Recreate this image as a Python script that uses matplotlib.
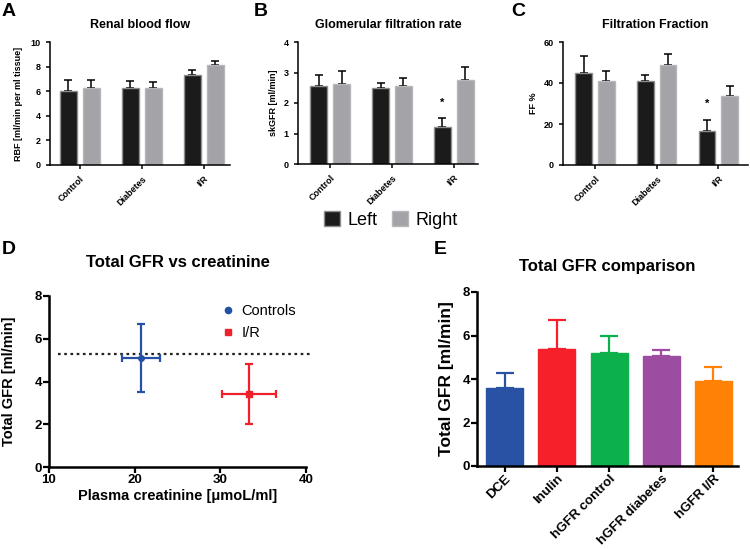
import matplotlib
matplotlib.use("Agg")
import matplotlib.pyplot as plt
from matplotlib.patches import Patch
from matplotlib.lines import Line2D
import numpy as np

plt.rcParams['font.family'] = ['Liberation Sans', 'DejaVu Sans']

# ---------------- data ----------------
groups = ["Control", "Diabetes", "I/R"]
rbf_left = [6.0, 6.3, 7.3]
rbf_left_err = [0.9, 0.5, 0.4]
rbf_right = [6.3, 6.25, 8.1]
rbf_right_err = [0.6, 0.5, 0.35]

gfr_left = [2.55, 2.48, 1.2]
gfr_left_err = [0.37, 0.17, 0.32]
gfr_right = [2.62, 2.55, 2.75]
gfr_right_err = [0.42, 0.28, 0.42]

ff_left = [45.0, 41.0, 16.7]
ff_left_err = [8.1, 2.8, 5.4]
ff_right = [41.0, 49.0, 33.7]
ff_right_err = [4.7, 5.1, 4.6]

star_B = [None, None, 2.0]
star_C = [None, None, 30.0]

scatter_labels = ["Controls", "I/R"]
creat_mean = [20.7, 33.3]
creat_err = [2.2, 3.15]
tgfr_mean = [5.1, 3.4]
tgfr_err = [1.6, 1.4]
ref_line_y = 5.3
ref_line_x = [11.0, 40.5]

comp_labels = ["DCE", "Inulin", "hGFR control", "hGFR diabetes", "hGFR I/R"]
comp_vals = [3.57, 5.4, 5.18, 5.05, 3.93]
comp_err = [0.7, 1.33, 0.78, 0.3, 0.6]
comp_colors = ["#2a52a4", "#f5202a", "#0cb14b", "#9c4ca1", "#ff8105"]

W, H = 750, 549
fig = plt.figure(figsize=(W / 100, H / 100), dpi=100)


def rect(x0, x1, ytop, ybot):
    return [x0 / W, 1 - ybot / H, (x1 - x0) / W, (ybot - ytop) / H]


BLACK = "#1b1b1b"
BEDGE = "#8e8e8e"
GRAY = "#a3a3a8"
GEDGE = "#b8b8bc"


def style_axes(ax, lw=1.1, ticklen=3, tickw=1.1):
    for s in ["top", "right"]:
        ax.spines[s].set_visible(False)
    for s in ["left", "bottom"]:
        ax.spines[s].set_linewidth(lw)
    ax.tick_params(direction="out", length=ticklen, width=tickw)


def bar_panel(r, left, lerr, right, rerr, ylim, yticks, ylabel, title, letter, lx, xlim,
              stars=None, labelpad=4):
    ax = fig.add_axes(rect(*r))
    x = np.arange(len(groups))
    off, w = 0.185, 0.27
    ax.errorbar(x - off, left, yerr=[np.zeros(len(left)), lerr], fmt="none",
                ecolor="black", elinewidth=1.1, capsize=3, capthick=1.1, zorder=1)
    ax.errorbar(x + off, right, yerr=[np.zeros(len(right)), rerr], fmt="none",
                ecolor="black", elinewidth=1.1, capsize=3, capthick=1.1, zorder=1)
    ax.bar(x - off, left, w, color=BLACK, edgecolor=BEDGE, linewidth=1.0, zorder=2)
    ax.bar(x + off, right, w, color=GRAY, edgecolor=GEDGE, linewidth=1.0, zorder=2)
    if stars:
        for i, s in enumerate(stars):
            if s is not None:
                ax.text(x[i] - off, s, "*", ha="center", va="center", fontsize=8, fontweight="bold")
    ax.set_xlim(*xlim)
    ax.set_ylim(*ylim)
    ax.set_yticks(yticks)
    ax.set_xticks(x)
    ax.set_xticklabels(groups, rotation=45, ha="right", rotation_mode="anchor",
                       fontsize=6.5, fontweight="bold")
    for t in ax.get_yticklabels():
        t.set_fontsize(6.5)
        t.set_fontweight("bold")
    ax.set_ylabel(ylabel, fontsize=6.5, fontweight="bold", labelpad=labelpad)
    ax.set_title(title, fontsize=9, fontweight="bold", pad=10)
    style_axes(ax)
    fig.text(lx / W, 1 - 11 / H, letter, fontsize=14, fontweight="bold", ha="left", va="center")
    return ax


bar_panel((50, 230, 42, 165), rbf_left, rbf_left_err, rbf_right, rbf_right_err,
          (0, 10), [0, 2, 4, 6, 8, 10], "RBF [ml/min per ml tissue]", "Renal blood flow", "A", 2,
          (-0.48, 2.42), labelpad=6)
bar_panel((298, 478, 42, 164), gfr_left, gfr_left_err, gfr_right, gfr_right_err,
          (0, 4), [0, 1, 2, 3, 4], "skGFR [ml/min]", "Glomerular filtration rate", "B", 254,
          (-0.52, 2.39), star_B)
bar_panel((563, 748, 42, 165), ff_left, ff_left_err, ff_right, ff_right_err,
          (0, 60), [0, 20, 40, 60], "FF %", "Filtration Fraction", "C", 511, (-0.52, 2.48), star_C)

fig.legend(handles=[Patch(facecolor=BLACK, edgecolor=BEDGE, linewidth=1.0, label="Left"),
                    Patch(facecolor=GRAY, edgecolor=GEDGE, linewidth=1.0, label="Right")],
           loc="center", bbox_to_anchor=(391 / W, 1 - 220 / H), ncol=2, frameon=False,
           fontsize=13, handlelength=0.9, handleheight=0.9, handletextpad=0.4, columnspacing=0.8)

# ---------------- D ----------------
axD = fig.add_axes(rect(49, 306, 296, 467))
colsD = ["#2451a4", "#f0202a"]
markers = ["o", "s"]
axD.plot(ref_line_x, [ref_line_y, ref_line_y], linestyle=(0, (1.2, 1.6)), color="#222222",
         linewidth=1.6, clip_on=False, zorder=1)
for i in range(len(scatter_labels)):
    axD.errorbar(creat_mean[i], tgfr_mean[i], xerr=creat_err[i], yerr=tgfr_err[i], fmt=markers[i],
                 color=colsD[i], ecolor=colsD[i], markersize=4, elinewidth=1.6, capsize=2.8,
                 capthick=1.6, zorder=3)
axD.set_xlim(10, 40)
axD.set_ylim(0, 8)
axD.set_xticks([10, 20, 30, 40])
axD.set_yticks([0, 2, 4, 6, 8])
for t in axD.get_xticklabels() + axD.get_yticklabels():
    t.set_fontsize(9.5)
    t.set_fontweight("bold")
axD.set_xlabel("Plasma creatinine [μmoL/ml]", fontsize=10.5, fontweight="bold", labelpad=2)
axD.set_ylabel("Total GFR [ml/min]", fontsize=10.5, fontweight="bold", labelpad=13)
axD.set_title("Total GFR vs creatinine", fontsize=12, fontweight="bold", pad=21)
style_axes(axD, lw=1.8, ticklen=4, tickw=1.6)
axD.tick_params(pad=1)
handlesD = [Line2D([], [], marker=markers[i], color=colsD[i], linestyle="none", markersize=4.5,
                   label=scatter_labels[i]) for i in range(len(scatter_labels))]
axD.legend(handles=handlesD, loc="center left", bbox_to_anchor=(208 / W, 1 - 322 / H),
           bbox_transform=fig.transFigure, frameon=False, fontsize=10.5, handlelength=1.0,
           handletextpad=0.4, labelspacing=0.6)
fig.text(2 / W, 1 - 249 / H, "D", fontsize=14, fontweight="bold", ha="left", va="center")

# ---------------- E ----------------
axE = fig.add_axes(rect(477, 738, 292, 466))
xe = np.arange(len(comp_labels))
for i in range(len(comp_labels)):
    axE.errorbar(xe[i], comp_vals[i], yerr=[[0], [comp_err[i]]], fmt="none",
                 ecolor=comp_colors[i], elinewidth=1.6, capsize=6.5, capthick=1.6, zorder=1)
axE.bar(xe, comp_vals, 0.71, color=comp_colors, edgecolor=comp_colors, zorder=2)
axE.set_xlim(-0.53, 4.47)
axE.set_ylim(0, 8)
axE.set_yticks([0, 2, 4, 6, 8])
axE.set_xticks(xe)
axE.set_xticklabels(comp_labels, rotation=45, ha="right", rotation_mode="anchor",
                    fontsize=9.5, fontweight="bold")
for t in axE.get_yticklabels():
    t.set_fontsize(9.5)
    t.set_fontweight("bold")
axE.set_ylabel("Total GFR [ml/min]", fontsize=12.5, fontweight="bold", labelpad=6)
axE.set_title("Total GFR comparison", fontsize=12, fontweight="bold", pad=15)
style_axes(axE, lw=1.8, ticklen=4, tickw=1.6)
axE.tick_params(pad=1)
fig.text(434 / W, 1 - 249 / H, "E", fontsize=14, fontweight="bold", ha="left", va="center")

fig.savefig("out.png", dpi=100, facecolor="white")
